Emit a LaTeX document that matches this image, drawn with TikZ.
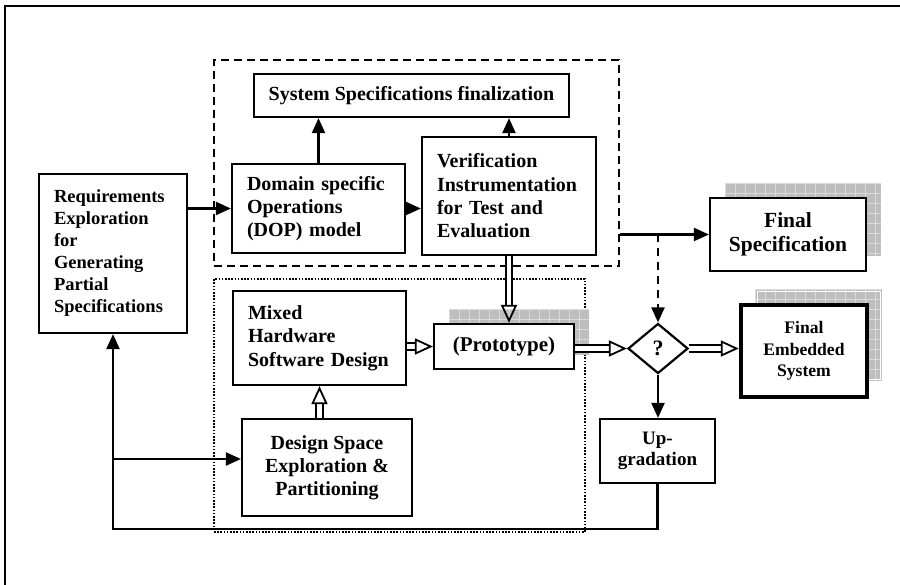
\documentclass[tikz,border=0pt]{standalone}
\usepackage{fontspec}
\setmainfont{Liberation Serif}
\usetikzlibrary{arrows.meta,shapes.geometric}
\definecolor{shgray}{HTML}{BEBEBE}
\definecolor{shline}{HTML}{DADADA}
\newcommand\fsz[2]{\fontsize{#1}{#2}\selectfont}
\newcommand\gshadow[4]{%
  \fill[shgray] (#1,#2) rectangle (#3,#4);
  \begin{scope}
    \clip (#1,#2) rectangle (#3,#4);
    \foreach \k in {0,...,20} {
      \draw[shline, line width=0.7pt] ({#1+10*\k},#2) -- ({#1+10*\k},#4);
      \draw[shline, line width=0.7pt] (#1,{#2+10*\k}) -- (#3,{#2+10*\k});
    }
  \end{scope}}
\tikzset{
  box/.style={draw, line width=2.2pt, fill=white, inner sep=0pt,
    font=\bfseries\fsz{20}{23.3}},
  lbox/.style={box, align=left, text width=#1},
  cbox/.style={box, align=center},
  arr/.style={line width=2.2pt, -{Triangle[length=15pt,width=13pt]}},
  harr/.style={line width=1.8pt, double, double distance=4.5pt,
    -{Triangle[open, length=18pt, width=16pt]}},
}
\begin{document}
\begin{tikzpicture}[x=1pt,y=-1pt]
\useasboundingbox (0,0) rectangle (900,585);
\draw[line width=2pt] (900,6) -- (5,6) -- (5,585);

% group boxes
\node[draw, line width=2.2pt, dash pattern=on 8pt off 5pt, minimum width=405pt,
  minimum height=206pt, inner sep=0pt] (grp) at (416.5,163) {};
\node[draw, line width=1.6pt, dash pattern=on 1.6pt off 1.6pt, minimum width=371pt,
  minimum height=253pt, inner sep=0pt] (dotg) at (399.5,405.5) {};

% shadows
\gshadow{449}{309}{589}{355}
\gshadow{725}{183}{881}{256}
\gshadow{755}{289}{882}{381}
\draw[white, line width=0.8pt] (757,291) rectangle (880,379);

% boxes
\node[cbox, minimum width=315pt, minimum height=43pt] (sys) at (411.5,95.5)
  {System Specifications finalization};
\node[lbox=118pt, minimum width=148pt, minimum height=159pt, font=\bfseries\fsz{18.5}{22}] (req) at (113,253.5)
  {Requirements\\Exploration\\for\\Generating\\Partial\\Specifications};
\node[lbox=143pt, minimum width=173pt, minimum height=89pt] (dop) at (318.5,208.5)
  {Domain specific\\Operations\\(DOP) model};
\node[lbox=144pt, minimum width=174pt, minimum height=118pt] (ver) at (509,196)
  {Verification\\Instrumentation\\for Test and\\Evaluation};
\node[lbox=143pt, minimum width=173pt, minimum height=94pt] (mix) at (319.5,338)
  {Mixed\\Hardware\\Software Design};
\node[cbox, minimum width=170pt, minimum height=97pt, font=\bfseries\fsz{20}{23}] (dse) at (327,467.5)
  {Design Space\\Exploration \&\\Partitioning};
\node[cbox, minimum width=140pt, minimum height=45pt, font=\bfseries\fsz{21}{24}] (proto) at (504,346.5)
  {(Prototype)};
\node[cbox, minimum width=156pt, minimum height=73pt, font=\bfseries\fsz{21.5}{24}] (fspec) at (788,234.5)
  {Final\\Specification};
\node[cbox, line width=4.5pt, minimum width=126pt, minimum height=92pt, font=\bfseries\fsz{17.6}{21.6}] (femb) at (804,351)
  {Final\\Embedded\\System};
\node[cbox, minimum width=115pt, minimum height=64pt, font=\bfseries\fsz{19}{21.7}] (upg) at (657.5,451)
  {Up-\\gradation};
\node[draw, shape=diamond, line width=2.2pt, fill=white, inner sep=0pt, minimum width=60pt,
  minimum height=50pt, font=\bfseries\fsz{22}{24}] (dia) at (658,348.5) {?};

% connectors
\draw[arr] (req.east |- dop.west) -- (dop.west);
\draw[arr] (dop.north) -- (dop.north |- sys.south);
\draw[arr] (ver.north) -- (ver.north |- sys.south);
\draw[arr] (dop.east) -- (ver.west |- dop.east);
\draw[arr] (grp.east |- fspec.west) -- (fspec.west);
\draw[arr, dash pattern=on 8pt off 6pt] (dia.north |- fspec.west) -- (dia.north);
\draw[arr] (dia.south) -- (dia.south |- upg.north);
\coordinate (fbl) at (113,529);
\coordinate (br) at (113,459);
\draw[arr] (upg.south) |- (fbl) -- (req.south);
\draw[arr] (br) -- (dse.west |- br);

\draw[harr] (ver.south) -- (ver.south |- proto.north);
\draw[harr] (mix.east |- proto.west) -- (proto.west);
\draw[harr] (proto.east |- dia.west) -- (dia.west);
\draw[harr] (dia.east) -- (femb.west |- dia.east);
\draw[harr] (mix.south |- dse.north) -- (mix.south);
\end{tikzpicture}
\end{document}
